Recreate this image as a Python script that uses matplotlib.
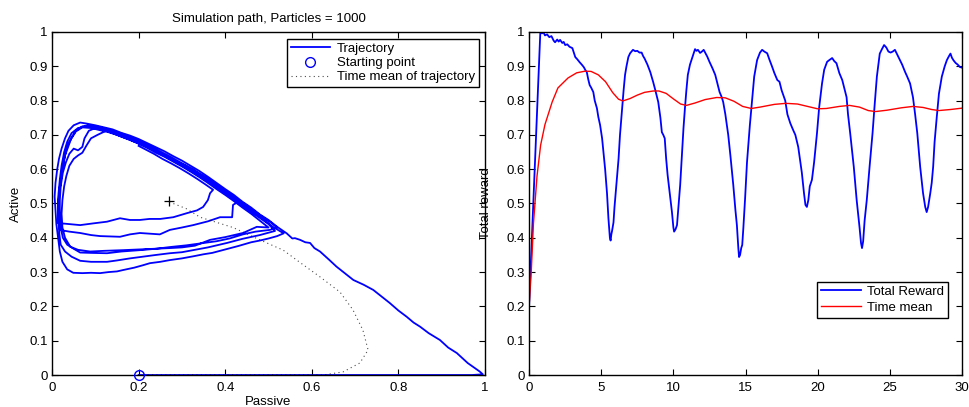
import numpy as np
import matplotlib
matplotlib.use("Agg")
import matplotlib.pyplot as plt
from matplotlib.ticker import FormatStrFormatter, MultipleLocator

plt.rcParams['font.family'] = ['Liberation Sans', 'DejaVu Sans']

# ---- left panel: trajectory in (passive, active) plane ----
start_point = (0.2, 0.0)
mean_end = (0.27, 0.507)

start_path = [(0.2, 0.0), (0.4, 0.0), (0.6, 0.0), (0.8, 0.0), (0.9, 0.0), (0.97, 0.0), (0.995, 0.002)]

diagonal_in = [(0.988, 0.01), (0.96, 0.035), (0.935, 0.064), (0.915, 0.08), (0.896, 0.102), (0.87, 0.122),
               (0.85, 0.141), (0.835, 0.153), (0.819, 0.17), (0.8, 0.188), (0.78, 0.21), (0.762, 0.228),
               (0.742, 0.248), (0.72, 0.263), (0.696, 0.277), (0.675, 0.298), (0.657, 0.316), (0.64, 0.336),
               (0.619, 0.36), (0.606, 0.37), (0.596, 0.385), (0.585, 0.387), (0.573, 0.394), (0.561, 0.399),
               (0.555, 0.398), (0.542, 0.413)]

loop_1 = [(0.542, 0.413), (0.52, 0.432), (0.50, 0.452), (0.48, 0.468), (0.46, 0.488), (0.44, 0.505), (0.42, 0.525),
          (0.40, 0.542), (0.38, 0.56), (0.36, 0.578), (0.34, 0.595), (0.32, 0.61), (0.30, 0.625), (0.28, 0.638),
          (0.26, 0.652), (0.24, 0.664), (0.22, 0.676), (0.20, 0.688), (0.18, 0.698), (0.16, 0.706), (0.14, 0.716),
          (0.12, 0.722), (0.10, 0.728), (0.08, 0.733), (0.065, 0.736), (0.05, 0.728), (0.038, 0.712), (0.03, 0.69),
          (0.022, 0.66), (0.016, 0.63), (0.012, 0.6), (0.008, 0.56), (0.006, 0.52), (0.008, 0.48), (0.01, 0.44),
          (0.014, 0.40), (0.018, 0.36), (0.024, 0.33), (0.035, 0.308), (0.049, 0.298), (0.07, 0.297), (0.09, 0.298),
          (0.111, 0.297), (0.13, 0.3), (0.15, 0.302), (0.164, 0.306), (0.19, 0.313), (0.21, 0.32), (0.226, 0.326),
          (0.25, 0.33), (0.272, 0.335), (0.3, 0.34), (0.326, 0.346), (0.35, 0.352), (0.37, 0.356), (0.4, 0.366),
          (0.43, 0.376), (0.46, 0.387), (0.48, 0.392), (0.5, 0.398), (0.52, 0.405), (0.535, 0.413)]

loop_2 = [(0.535, 0.413), (0.51, 0.432), (0.49, 0.452), (0.47, 0.47), (0.45, 0.488), (0.43, 0.505), (0.41, 0.523),
          (0.39, 0.54), (0.37, 0.556), (0.35, 0.572), (0.33, 0.588), (0.31, 0.603), (0.29, 0.618), (0.27, 0.632),
          (0.25, 0.645), (0.23, 0.66), (0.21, 0.672), (0.19, 0.68), (0.17, 0.69), (0.15, 0.7), (0.13, 0.708),
          (0.11, 0.714), (0.09, 0.72), (0.07, 0.722), (0.055, 0.71), (0.045, 0.69), (0.035, 0.67), (0.03, 0.64),
          (0.025, 0.61), (0.02, 0.57), (0.016, 0.53), (0.014, 0.49), (0.015, 0.45), (0.017, 0.41), (0.02, 0.38),
          (0.03, 0.36), (0.045, 0.345), (0.065, 0.333), (0.09, 0.33), (0.127, 0.33), (0.15, 0.334), (0.18, 0.34),
          (0.21, 0.345), (0.24, 0.35), (0.272, 0.355), (0.3, 0.358), (0.326, 0.364), (0.36, 0.372), (0.404, 0.385),
          (0.44, 0.397), (0.48, 0.408), (0.5, 0.415), (0.515, 0.42)]

loop_3 = [(0.515, 0.42), (0.5, 0.44), (0.48, 0.458), (0.46, 0.476), (0.44, 0.494), (0.42, 0.512), (0.40, 0.53),
          (0.38, 0.548), (0.36, 0.566), (0.34, 0.584), (0.32, 0.6), (0.30, 0.615), (0.28, 0.628), (0.26, 0.64),
          (0.24, 0.655), (0.22, 0.668), (0.2, 0.68), (0.18, 0.693), (0.16, 0.702), (0.14, 0.712), (0.12, 0.718),
          (0.1, 0.72), (0.085, 0.712), (0.075, 0.69), (0.07, 0.665), (0.06, 0.655), (0.05, 0.66), (0.04, 0.645),
          (0.032, 0.62), (0.025, 0.59), (0.02, 0.55), (0.018, 0.51), (0.018, 0.47), (0.02, 0.43), (0.025, 0.4),
          (0.035, 0.38), (0.05, 0.368), (0.065, 0.357), (0.09, 0.356), (0.127, 0.355), (0.16, 0.36), (0.203, 0.364),
          (0.24, 0.368), (0.272, 0.373), (0.31, 0.378), (0.35, 0.385), (0.38, 0.39), (0.41, 0.398), (0.441, 0.41),
          (0.47, 0.418), (0.503, 0.423), (0.52, 0.43)]

loop_4 = [(0.52, 0.43), (0.505, 0.445), (0.485, 0.462), (0.465, 0.48), (0.445, 0.498), (0.425, 0.515),
          (0.405, 0.532), (0.385, 0.55), (0.365, 0.566), (0.345, 0.582), (0.325, 0.598), (0.305, 0.612),
          (0.285, 0.625), (0.265, 0.638), (0.245, 0.65), (0.225, 0.664), (0.205, 0.676), (0.185, 0.688),
          (0.165, 0.697), (0.145, 0.706), (0.125, 0.712), (0.105, 0.7), (0.09, 0.69), (0.08, 0.67), (0.07, 0.648),
          (0.06, 0.64), (0.05, 0.63), (0.04, 0.61), (0.033, 0.58), (0.028, 0.55), (0.024, 0.51), (0.022, 0.47),
          (0.024, 0.43), (0.03, 0.4), (0.042, 0.374), (0.06, 0.365), (0.088, 0.36), (0.12, 0.362), (0.164, 0.364),
          (0.2, 0.366), (0.24, 0.368), (0.272, 0.37), (0.3, 0.372), (0.33, 0.377), (0.365, 0.394), (0.4, 0.402),
          (0.441, 0.414), (0.473, 0.432), (0.5, 0.43)]

loop_5 = [(0.5, 0.43), (0.48, 0.45), (0.46, 0.47), (0.44, 0.488), (0.42, 0.507), (0.40, 0.525), (0.38, 0.542),
          (0.36, 0.56), (0.34, 0.577), (0.32, 0.593), (0.30, 0.608), (0.28, 0.622), (0.26, 0.636), (0.24, 0.648),
          (0.22, 0.662), (0.20, 0.674), (0.18, 0.686), (0.16, 0.695), (0.14, 0.705), (0.12, 0.714), (0.10, 0.72),
          (0.08, 0.725), (0.06, 0.72), (0.045, 0.705), (0.035, 0.68), (0.028, 0.65), (0.022, 0.61), (0.018, 0.57),
          (0.015, 0.53), (0.014, 0.49), (0.016, 0.45), (0.018, 0.423), (0.04, 0.418), (0.065, 0.414),
          (0.09, 0.408), (0.111, 0.405), (0.135, 0.404), (0.157, 0.403), (0.18, 0.41), (0.203, 0.414),
          (0.249, 0.41), (0.272, 0.423), (0.3, 0.43), (0.326, 0.437), (0.36, 0.448), (0.388, 0.46), (0.416, 0.46),
          (0.418, 0.496), (0.43, 0.505), (0.44, 0.5)]

loop_6 = [(0.44, 0.5), (0.425, 0.515), (0.405, 0.533), (0.385, 0.55), (0.365, 0.568), (0.345, 0.584),
          (0.325, 0.6), (0.305, 0.614), (0.285, 0.628), (0.265, 0.642), (0.245, 0.655), (0.225, 0.668),
          (0.205, 0.68), (0.185, 0.692), (0.165, 0.702), (0.145, 0.71), (0.125, 0.718), (0.105, 0.724),
          (0.085, 0.728), (0.07, 0.725), (0.055, 0.712), (0.045, 0.692), (0.038, 0.668), (0.03, 0.64),
          (0.024, 0.6), (0.02, 0.56), (0.016, 0.52), (0.014, 0.48), (0.014, 0.443), (0.04, 0.44), (0.065, 0.437),
          (0.095, 0.442), (0.127, 0.447), (0.157, 0.457), (0.18, 0.452), (0.203, 0.452), (0.225, 0.455),
          (0.25, 0.455), (0.28, 0.46), (0.312, 0.472), (0.335, 0.48), (0.349, 0.49), (0.36, 0.51), (0.365, 0.53),
          (0.372, 0.54), (0.355, 0.555), (0.335, 0.572), (0.315, 0.588), (0.295, 0.603), (0.275, 0.617),
          (0.255, 0.63), (0.235, 0.645), (0.215, 0.658), (0.2, 0.668)]

mean_path = [(0.2, 0.0), (0.4, 0.0), (0.55, 0.0), (0.626, 0.0), (0.672, 0.009), (0.711, 0.035), (0.73, 0.073),
             (0.718, 0.131), (0.695, 0.19), (0.665, 0.242), (0.619, 0.286), (0.575, 0.326), (0.534, 0.364),
             (0.48, 0.394), (0.418, 0.43), (0.342, 0.46), (0.31, 0.485), (0.28, 0.5), (0.27, 0.507)]

# ---- right panel: total reward over time ----
reward_t = [0, 0.78, 0.9, 1.0, 1.1, 1.25, 1.4, 1.55, 1.7, 1.8, 1.95, 2.05, 2.15, 2.3, 2.4, 2.5, 2.65, 2.8, 3.0,
            3.1, 3.2, 3.35, 3.5, 3.67, 3.8, 3.9, 4.0, 4.1, 4.2, 4.3, 4.45, 4.55, 4.7, 4.8, 4.92, 5.06, 5.15, 5.27,
            5.4, 5.5, 5.6, 5.65, 5.7, 5.75, 5.85, 5.92, 6.0, 6.1, 6.2, 6.3, 6.45, 6.55, 6.65, 6.75, 6.88, 7.0, 7.2,
            7.35, 7.5, 7.65, 7.8, 7.9, 8.0, 8.2, 8.4, 8.6, 8.75, 8.95, 9.1, 9.2, 9.3, 9.4, 9.5, 9.6, 9.75, 9.9,
            10.0, 10.05, 10.15, 10.25, 10.35, 10.47, 10.6, 10.7, 10.8, 10.9, 11.0, 11.15, 11.3, 11.4, 11.5, 11.6,
            11.7, 11.85, 11.95, 12.1, 12.2, 12.35, 12.5, 12.7, 12.9, 13.05, 13.2, 13.35, 13.45, 13.6, 13.8, 13.95,
            14.15, 14.3, 14.4, 14.5, 14.55, 14.62, 14.7, 14.77, 14.85, 14.97, 15.1, 15.3, 15.45, 15.6, 15.8, 16.0,
            16.15, 16.3, 16.5, 16.65, 16.83, 17.0, 17.2, 17.35, 17.5, 17.75, 17.9, 18.1, 18.3, 18.45, 18.65, 18.8,
            18.9, 19.05, 19.15, 19.25, 19.35, 19.45, 19.6, 19.75, 19.95, 20.1, 20.3, 20.45, 20.65, 20.8, 21.0,
            21.15, 21.3, 21.5, 21.7, 21.85, 22.0, 22.1, 22.25, 22.5, 22.7, 22.9, 23.0, 23.07, 23.15, 23.25, 23.4,
            23.6, 23.8, 23.95, 24.1, 24.3, 24.45, 24.6, 24.75, 24.9, 25.05, 25.2, 25.35, 25.5, 25.7, 25.85, 26.05,
            26.2, 26.4, 26.6, 26.75, 26.9, 27.1, 27.3, 27.45, 27.55, 27.65, 27.8, 27.9, 28.0, 28.1, 28.25, 28.4,
            28.6, 28.8, 28.95, 29.1, 29.2, 29.3, 29.4, 29.55, 29.7, 29.85, 30.0]
reward_v = [0.2, 1.0, 0.996, 0.999, 0.99, 0.993, 0.985, 0.988, 0.975, 0.97, 0.978, 0.972, 0.977, 0.968, 0.971,
            0.962, 0.964, 0.957, 0.953, 0.94, 0.927, 0.92, 0.912, 0.904, 0.897, 0.889, 0.883, 0.862, 0.845, 0.838,
            0.825, 0.80, 0.778, 0.752, 0.729, 0.69, 0.65, 0.60, 0.53, 0.456, 0.40, 0.392, 0.41, 0.42, 0.445, 0.49,
            0.53, 0.58, 0.63, 0.70, 0.778, 0.83, 0.875, 0.9, 0.927, 0.938, 0.948, 0.944, 0.945, 0.94, 0.94, 0.93,
            0.923, 0.905, 0.883, 0.854, 0.83, 0.796, 0.75, 0.708, 0.70, 0.69, 0.63, 0.583, 0.53, 0.475, 0.43, 0.418,
            0.425, 0.437, 0.49, 0.554, 0.65, 0.72, 0.778, 0.83, 0.875, 0.905, 0.924, 0.937, 0.95, 0.945, 0.948,
            0.939, 0.942, 0.948, 0.94, 0.928, 0.913, 0.895, 0.875, 0.85, 0.825, 0.81, 0.796, 0.76, 0.70, 0.64,
            0.554, 0.48, 0.437, 0.37, 0.344, 0.35, 0.37, 0.379, 0.43, 0.516, 0.62, 0.729, 0.80, 0.87, 0.918, 0.94,
            0.948, 0.943, 0.938, 0.92, 0.90, 0.88, 0.86, 0.855, 0.83, 0.80, 0.76, 0.734, 0.714, 0.70, 0.665, 0.62,
            0.59, 0.53, 0.496, 0.49, 0.51, 0.55, 0.569, 0.62, 0.705, 0.78, 0.85, 0.89, 0.913, 0.918, 0.924, 0.915,
            0.909, 0.88, 0.86, 0.835, 0.81, 0.76, 0.705, 0.607, 0.51, 0.43, 0.385, 0.37, 0.39, 0.45, 0.51, 0.61,
            0.705, 0.79, 0.87, 0.937, 0.95, 0.962, 0.955, 0.943, 0.94, 0.943, 0.948, 0.935, 0.918, 0.905, 0.884,
            0.87, 0.85, 0.81, 0.76, 0.705, 0.607, 0.53, 0.49, 0.475, 0.49, 0.53, 0.56, 0.607, 0.68, 0.752, 0.82,
            0.87, 0.9, 0.918, 0.93, 0.937, 0.925, 0.918, 0.91, 0.905, 0.898, 0.896]

mean_t = [0, 0.15, 0.3, 0.55, 0.8, 1.1, 1.6, 2.0, 2.7, 3.3, 3.9, 4.3, 4.8, 5.3, 5.8, 6.2, 6.5, 7.0, 7.5, 8.0, 8.6,
          9.0, 9.5, 10.0, 10.5, 10.9, 11.5, 12.2, 13.0, 13.6, 14.2, 14.8, 15.4, 16.0, 17.0, 17.8, 18.6, 19.3,
          20.0, 20.6, 21.5, 22.2, 22.9, 23.5, 24.0, 24.8, 25.8, 26.6, 27.3, 27.9, 28.4, 29.2, 30.0]
mean_v = [0.2, 0.3, 0.44, 0.58, 0.67, 0.73, 0.796, 0.837, 0.866, 0.881, 0.886, 0.885, 0.875, 0.855, 0.823, 0.804,
          0.799, 0.806, 0.816, 0.824, 0.828, 0.828, 0.821, 0.805, 0.79, 0.786, 0.793, 0.803, 0.809, 0.808, 0.798,
          0.783, 0.777, 0.781, 0.789, 0.792, 0.790, 0.783, 0.776, 0.777, 0.783, 0.786, 0.781, 0.771, 0.768, 0.772,
          0.779, 0.783, 0.780, 0.774, 0.771, 0.774, 0.778]

FS = 9.5


def style_axes(ax):
    ax.tick_params(direction='in', top=True, right=True, length=4, width=0.8, labelsize=FS, colors='black')
    ax.tick_params(axis='y', pad=3)
    ax.tick_params(axis='x', pad=5)
    for s in ax.spines.values():
        s.set_linewidth(1.0)
    ax.yaxis.set_major_locator(MultipleLocator(0.1))
    ax.yaxis.set_major_formatter(FormatStrFormatter('%g'))
    ax.xaxis.set_major_formatter(FormatStrFormatter('%g'))


fig = plt.figure(figsize=(9.69, 4.07), dpi=100)
ax1 = fig.add_axes([0.0537, 0.0786, 0.4468, 0.8428])
ax2 = fig.add_axes([0.546, 0.0786, 0.4468, 0.8428])

traj = start_path + diagonal_in + loop_1 + loop_2 + loop_3 + loop_4 + loop_5 + loop_6
tx, ty = zip(*traj)
mx, my = zip(*mean_path)

ax1.plot(tx, ty, color='blue', lw=1.3, label='Trajectory')
ax1.plot(*start_point, 'o', mfc='none', mec='blue', ms=7, mew=1.0, clip_on=False, zorder=5,
         label='Starting point')
ax1.plot(mx, my, color='black', lw=0.8, ls=(0, (1, 3)), alpha=0.7, label='Time mean of trajectory')
ax1.plot(*mean_end, '+', color='black', ms=7, mew=0.9)
ax1.set_xlim(0, 1)
ax1.set_ylim(0, 1)
style_axes(ax1)
ax1.xaxis.set_major_locator(MultipleLocator(0.2))
ax1.set_title('Simulation path, Particles = 1000', fontsize=FS, pad=7)
ax1.set_xlabel('Passive', fontsize=FS)
ax1.set_ylabel('Active', fontsize=FS)
ax1.xaxis.set_label_coords(0.5, -0.06)
ax1.yaxis.set_label_coords(-0.07, 0.5)
leg1 = ax1.legend(loc='upper right', bbox_to_anchor=(0.986, 0.98), borderaxespad=0, fontsize=FS,
                  fancybox=False, framealpha=1, edgecolor='black', handlelength=3.0, handletextpad=0.5,
                  borderpad=0.3, labelspacing=0.15)
leg1.get_frame().set_linewidth(1.0)

ax2.plot(reward_t, reward_v, color='blue', lw=1.3, label='Total Reward')
ax2.plot(mean_t, mean_v, color='red', lw=1.0, label='Time mean')
ax2.set_xlim(0, 30)
ax2.set_ylim(0, 1)
style_axes(ax2)
ax2.xaxis.set_major_locator(MultipleLocator(5))
ax2.set_ylabel('Total reward', fontsize=FS)
ax2.yaxis.set_label_coords(-0.085, 0.5)
leg2 = ax2.legend(loc='lower right', bbox_to_anchor=(0.968, 0.166), borderaxespad=0, fontsize=FS,
                  fancybox=False, framealpha=1, edgecolor='black', handlelength=3.0, handletextpad=0.5,
                  borderpad=0.3, labelspacing=0.3)
leg2.get_frame().set_linewidth(1.0)

fig.savefig('out.png', dpi=100)
